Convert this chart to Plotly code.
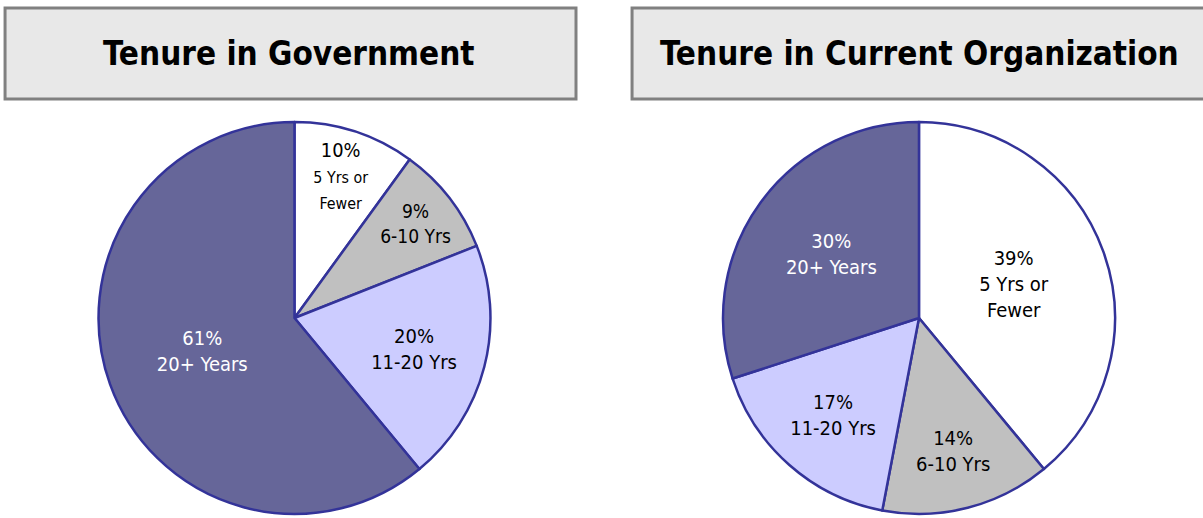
import plotly.graph_objects as go

categories = ["5 Yrs or Fewer", "6-10 Yrs", "11-20 Yrs", "20+ Years"]
gov_values = [10, 9, 20, 61]
org_values = [39, 14, 17, 30]
gov_text = ["10%<br><span style='font-size:16px'>5 Yrs or<br>Fewer</span>", "9%<br>6-10 Yrs", "20%<br>11-20 Yrs", "61%<br>20+ Years"]
org_text = ["39%<br>5 Yrs or<br>Fewer", "14%<br>6-10 Yrs", "17%<br>11-20 Yrs", "30%<br>20+ Years"]
titles = ["Tenure in Government", "Tenure in Current Organization"]

slice_colors = ["#ffffff", "#c0c0c0", "#ccccff", "#666699"]
text_colors = ["#000000", "#000000", "#000000", "#ffffff"]
label_font = "Liberation Sans Narrow, DejaVu Sans Condensed, Arial Narrow, sans-serif"
title_font = "DejaVu Sans Condensed, Liberation Sans Narrow, sans-serif"

fig = go.Figure()
common = dict(
    labels=categories, sort=False, direction="clockwise", rotation=0,
    textinfo="text", textposition="inside", insidetextorientation="horizontal",
    marker=dict(colors=slice_colors, line=dict(color="#333399", width=2.5)),
    insidetextfont=dict(family=label_font, size=20, color=text_colors),
    hoverinfo="label+percent", showlegend=False,
)
fig.add_trace(go.Pie(values=gov_values, text=gov_text,
                     domain=dict(x=[0.0819, 0.4077], y=[0.0077, 0.7645]), **common))
fig.add_trace(go.Pie(values=org_values, text=org_text,
                     domain=dict(x=[0.6010, 0.9268], y=[0.0077, 0.7645]), **common))

boxes = [(0.0042, 0.4788), (0.5254, 1.01)]
centers = [0.2402, 0.7640]
for (x0, x1), cx, t in zip(boxes, centers, titles):
    fig.add_shape(type="rect", xref="paper", yref="paper", x0=x0, x1=x1, y0=0.8089, y1=0.9846,
                  fillcolor="#e8e8e8", line=dict(color="#808080", width=3), layer="below")
    fig.add_annotation(x=cx, y=0.8967, xref="paper", yref="paper", xanchor="center", yanchor="middle",
                       text="<b>" + t + "</b>", showarrow=False,
                       font=dict(family=title_font, size=33, color="#000000"))

fig.update_layout(width=1203, height=518, margin=dict(l=0, r=0, t=0, b=0),
                  paper_bgcolor="#ffffff", plot_bgcolor="#ffffff")
fig.write_html("out.html", config={"displayModeBar": False},
               post_script="document.body.style.margin='0';")
